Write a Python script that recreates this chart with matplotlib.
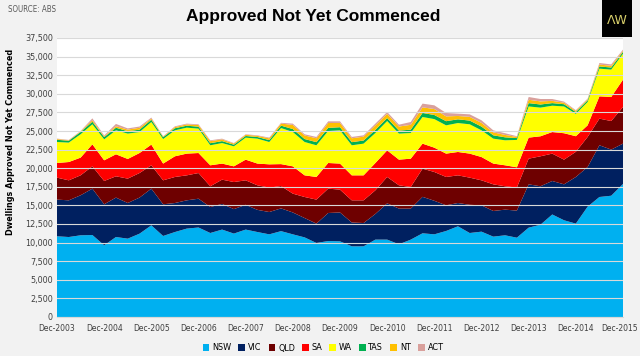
import numpy as np
import matplotlib
matplotlib.use("Agg")
import matplotlib.pyplot as plt
from matplotlib.patches import Patch
from matplotlib import font_manager
from matplotlib.transforms import ScaledTranslation

# ---------------- data (quarterly, Dec-2003 .. Dec-2015) ----------------
states = ["NSW", "VIC", "QLD", "SA", "WA", "TAS", "NT", "ACT"]
colors = ["#00b0f0", "#002060", "#6e0000", "#ff0000", "#ffff00", "#00b050", "#ffc000", "#d9a09c"]

nsw = [10850, 10750, 10980, 11020, 9640, 10750, 10530, 11200, 12320, 10890,
       11420, 11880, 12030, 11290, 11750, 11210, 11750, 11420, 11110, 11540,
       11110, 10700, 9950, 10210, 10170, 9500, 9500, 10400, 10400, 9770,
       10400, 11250, 11110, 11560, 12190, 11290, 11470, 10800, 10980, 10660,
       12010, 12400, 13780, 13000, 12550, 14830, 16130, 16300, 17880]
vic = [4930, 4930, 5380, 6230, 5510, 5300, 4790, 4850, 4930, 4260,
       3900, 3800, 3870, 3490, 3450, 3290, 3330, 2980, 3000, 3060,
       2940, 2600, 2600, 3770, 3880, 3200, 3130, 3450, 4880, 4800,
       4170, 4900, 4510, 3450, 3130, 3790, 3540, 3450, 3450, 3640,
       5820, 5170, 4500, 4830, 6270, 5330, 6950, 6200, 5420]
qld = [2950, 2690, 2680, 3000, 3130, 2860, 3280, 3300, 3140, 3220,
       3500, 3360, 3450, 2790, 3260, 3640, 3290, 3300, 3280, 3000,
       2530, 2830, 3230, 3270, 3070, 2980, 3050, 3180, 3540, 3130,
       2900, 3790, 3870, 3810, 3720, 3650, 3360, 3580, 3140, 3100,
       3450, 4030, 3680, 3320, 3380, 4040, 3580, 3840, 4920]
sa = [1970, 2460, 2380, 2960, 2780, 2960, 2640, 2690, 2780, 2250,
      2780, 2920, 2690, 2820, 2160, 2110, 2780, 2920, 3130, 2950,
      3670, 2910, 3040, 3450, 3500, 3360, 3360, 3670, 3580, 3450,
      3810, 3360, 3270, 3140, 3140, 3230, 3130, 2790, 2820, 2720,
      2830, 2690, 2900, 3550, 2100, 1560, 3000, 3230, 3680]
wa = [2820, 2610, 3140, 2690, 2820, 3220, 3410, 2820, 3040, 3300,
      3490, 3490, 3280, 2690, 2760, 2690, 2960, 3350, 3000, 4850,
      4610, 4480, 4260, 4300, 4470, 4040, 4260, 4030, 3940, 3500,
      3450, 3580, 3840, 3800, 3890, 3940, 3590, 3350, 3360, 3680,
      4190, 3850, 3540, 3600, 3000, 3140, 3720, 3680, 3490]
tas = [300, 250, 300, 350, 300, 350, 320, 320, 300, 250,
       280, 260, 260, 280, 260, 220, 220, 220, 260, 320,
       400, 400, 420, 420, 420, 420, 420, 420, 400, 400,
       450, 550, 550, 560, 500, 500, 500, 450, 400, 250,
       450, 420, 350, 300, 250, 220, 300, 280, 250]
nt = [100, 60, 80, 200, 100, 200, 220, 250, 150, 80,
      160, 180, 220, 280, 230, 150, 160, 160, 230, 280,
      550, 480, 520, 650, 580, 520, 520, 600, 560, 550,
      650, 750, 800, 640, 450, 500, 500, 400, 320, 150,
      450, 420, 300, 200, 150, 130, 250, 230, 150]
act = [60, 50, 60, 250, 120, 310, 160, 170, 140, 50,
       100, 100, 100, 110, 100, 70, 70, 70, 100, 100,
       180, 160, 180, 230, 210, 180, 180, 240, 250, 250,
       380, 500, 500, 460, 310, 340, 350, 270, 230, 100,
       370, 320, 250, 150, 100, 100, 210, 190, 150]

tick_labels = ["Dec-2003", "Dec-2004", "Dec-2005", "Dec-2006", "Dec-2007", "Dec-2008",
               "Dec-2009", "Dec-2010", "Dec-2011", "Dec-2012", "Dec-2013", "Dec-2014",
               "Dec-2015"]
y_ticks = list(range(0, 37501, 2500))

# ---------------- fonts: prefer a narrow face ----------------
entries = font_manager.fontManager.ttflist
names = {f.name for f in entries}
stretch = "normal"
if "Liberation Sans Narrow" in names:
    fam = "Liberation Sans Narrow"; scale = 1.05
elif any(f.name == "DejaVu Sans" and str(f.stretch) in ("condensed", "semi-condensed") for f in entries):
    fam = "DejaVu Sans"; stretch = "condensed"; scale = 0.95
else:
    fam = "Liberation Sans"; scale = 0.88
plt.rcParams["font.family"] = [fam, "DejaVu Sans"]
plt.rcParams["font.stretch"] = stretch

# ---------------- figure ----------------
fig = plt.figure(figsize=(6.4, 3.56), dpi=100, facecolor="#f2f2f2")
ax = fig.add_axes([57 / 640, 1 - 317 / 356, 566 / 640, 279 / 356])
ax.set_facecolor("white")

x = np.arange(len(nsw))
ax.stackplot(x, nsw, vic, qld, sa, wa, tas, nt, act, colors=colors, linewidth=0)

ax.set_xlim(0, len(nsw) - 1)
ax.set_ylim(0, 37500)
ax.set_yticks(y_ticks)
ax.set_yticklabels([f"{v:,}" for v in y_ticks], fontsize=6.8 * scale, color="#404040")
ax.set_xticks(np.arange(0, len(nsw), 4))
ax.set_xticklabels(tick_labels, fontsize=6.4 * scale, color="#404040")
ax.tick_params(axis="both", length=0, pad=3)
ax.tick_params(axis="x", pad=5)
last = ax.get_xticklabels()[-1]
last.set_transform(last.get_transform() + ScaledTranslation(-3 / 100, 0, fig.dpi_scale_trans))
ax.yaxis.grid(True, color="#d9d9d9", linewidth=0.8)
for gl in ax.get_ygridlines():
    gl.set_zorder(0.5)
for s in ["top", "right", "left"]:
    ax.spines[s].set_visible(False)
ax.spines["bottom"].set_color("#d9d9d9")

ax.set_ylabel("Dwellings Approved Not Yet Commenced", fontsize=6.8 * scale, fontweight="bold",
              color="black")
ax.yaxis.set_label_coords(-42 / 566, (317 - 142) / 279)

fig.text(0.49, 0.953, "Approved Not Yet Commenced", ha="center", va="center",
         fontsize=12.5, fontweight="bold", color="black",
         family=["Liberation Sans", "DejaVu Sans"], stretch="normal")
fig.text(8 / 640, 1 - 10 / 356, "SOURCE: ABS", ha="left", va="center",
         fontsize=6 * scale, color="#595959")

# logo
logo_ax = fig.add_axes([602 / 640, 1 - 37 / 356, 30 / 640, 37 / 356])
logo_ax.set_facecolor("black")
logo_ax.set_xticks([]); logo_ax.set_yticks([])
for s in logo_ax.spines.values():
    s.set_visible(False)
logo_ax.text(0.5, 0.45, "ΛW", ha="center", va="center", color="#d8cf6a",
             fontsize=9, family="DejaVu Sans", stretch="normal", transform=logo_ax.transAxes)

handles = [Patch(facecolor=c, edgecolor="none", label=s) for s, c in zip(states, colors)]
fig.legend(handles=handles, loc="center", bbox_to_anchor=(0.505, 1 - 348 / 356), ncol=8,
           frameon=False, fontsize=6.8 * scale, handlelength=0.75, handleheight=0.75,
           handletextpad=0.3, columnspacing=0.8)

fig.savefig("out.png", dpi=100, facecolor=fig.get_facecolor())
